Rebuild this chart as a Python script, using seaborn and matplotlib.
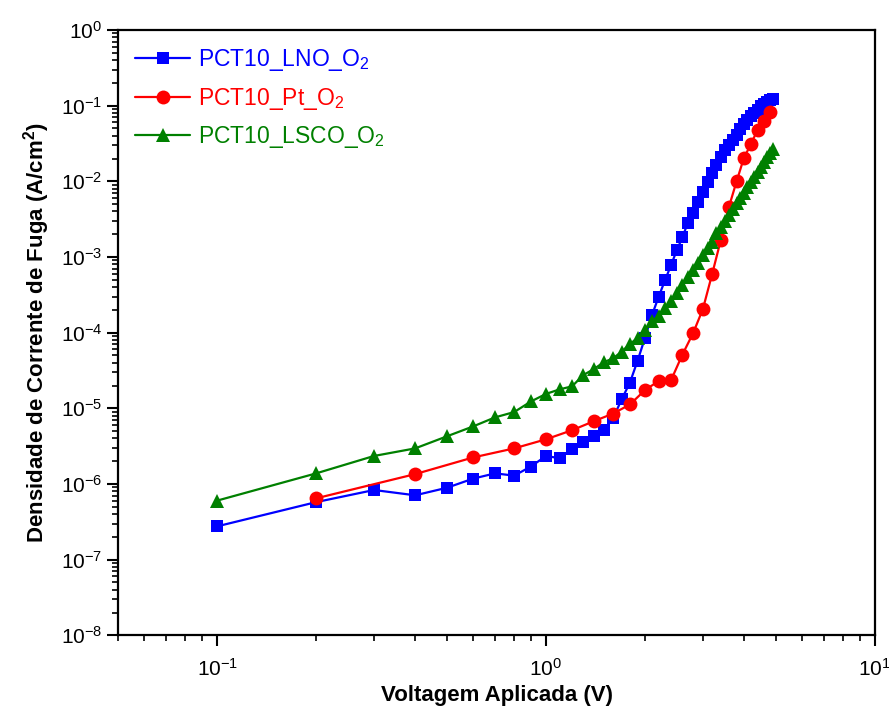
import numpy as np
import pandas as pd
import seaborn as sns
import matplotlib
from matplotlib import pyplot as plt
from matplotlib.ticker import LogLocator, NullFormatter

sns.set_style("ticks")
matplotlib.rcParams.update({
    "font.family": ["Liberation Sans", "DejaVu Sans"],
    "mathtext.fontset": "custom",
    "mathtext.rm": "Liberation Sans",
    "mathtext.bf": "Liberation Sans:bold",
    "text.color": "black",
    "axes.labelcolor": "black",
    "xtick.color": "black",
    "ytick.color": "black",
})

# Voltages (V) and log10 of leakage current density (A/cm^2)
v_lno = [0.1, 0.2, 0.3, 0.4, 0.5, 0.6, 0.7, 0.8, 0.9, 1.0,
         1.1, 1.2, 1.3, 1.4, 1.5, 1.6, 1.7, 1.8, 1.9, 2.0,
         2.1, 2.2, 2.3, 2.4, 2.5, 2.6, 2.7, 2.8, 2.9, 3.0,
         3.1, 3.2, 3.3, 3.4, 3.5, 3.6, 3.7, 3.8, 3.9, 4.0,
         4.1, 4.2, 4.3, 4.4, 4.5, 4.6, 4.7, 4.8, 4.9]
logj_lno = [-6.56, -6.24, -6.08, -6.15, -6.05, -5.93, -5.86, -5.89, -5.77, -5.63,
            -5.66, -5.54, -5.44, -5.36, -5.29, -5.13, -4.88, -4.66, -4.37, -4.07,
            -3.77, -3.53, -3.31, -3.11, -2.91, -2.74, -2.55, -2.42, -2.28, -2.14,
            -2.01, -1.89, -1.79, -1.68, -1.59, -1.52, -1.46, -1.39, -1.31, -1.24,
            -1.19, -1.14, -1.10, -1.06, -1.01, -0.98, -0.95, -0.93, -0.91]

v_pt = [0.2, 0.4, 0.6, 0.8, 1.0, 1.2, 1.4, 1.6, 1.8, 2.0,
        2.2, 2.4, 2.6, 2.8, 3.0, 3.2, 3.4, 3.6, 3.8, 4.0,
        4.2, 4.4, 4.6, 4.8]
logj_pt = [-6.19, -5.87, -5.65, -5.53, -5.41, -5.29, -5.17, -5.07, -4.95, -4.76,
           -4.64, -4.63, -4.29, -4.01, -3.69, -3.23, -2.78, -2.34, -2.00, -1.69,
           -1.51, -1.32, -1.20, -1.08]

v_lsco = v_lno
logj_lsco = [-6.22, -5.86, -5.63, -5.53, -5.37, -5.24, -5.12, -5.05, -4.91, -4.81,
             -4.75, -4.71, -4.56, -4.48, -4.39, -4.34, -4.25, -4.15, -4.07, -3.97,
             -3.85, -3.78, -3.68, -3.58, -3.47, -3.37, -3.27, -3.17, -3.08, -2.98,
             -2.88, -2.80, -2.69, -2.61, -2.53, -2.45, -2.37, -2.29, -2.22, -2.15,
             -2.08, -2.01, -1.94, -1.88, -1.81, -1.75, -1.68, -1.63, -1.57]

series = [
    ("PCT10_LNO_O$_2$", v_lno, logj_lno, "#0000FF", "s", 9),
    ("PCT10_Pt_O$_2$", v_pt, logj_pt, "#FF0000", "o", 10),
    ("PCT10_LSCO_O$_2$", v_lsco, logj_lsco, "#008000", "^", 10),
]

fig = plt.figure(figsize=(8.89, 7.13), dpi=100)
ax = fig.add_axes([0.133, 0.109, 0.851, 0.849])
ax.set_xscale("log")
ax.set_yscale("log")

for name, v, lj, color, mk, ms in series:
    df = pd.DataFrame({"V": v, "J": 10 ** np.array(lj)})
    sns.lineplot(data=df, x="V", y="J", ax=ax, color=color, marker=mk,
                 markersize=ms, markeredgewidth=0, linewidth=1.6,
                 estimator=None, sort=False, label=name)

ax.set_xlim(0.05, 10)
ax.set_ylim(1e-8, 1)

ax.xaxis.set_major_locator(LogLocator(base=10, numticks=10))
ax.xaxis.set_minor_locator(LogLocator(base=10, subs=np.arange(2, 10), numticks=10))
ax.xaxis.set_minor_formatter(NullFormatter())
ax.yaxis.set_major_locator(LogLocator(base=10, numticks=12))
ax.yaxis.set_minor_locator(LogLocator(base=10, subs=np.arange(2, 10), numticks=12))
ax.yaxis.set_minor_formatter(NullFormatter())

ax.tick_params(which="major", direction="out", length=8, width=1.5,
               labelsize=15, top=False, right=False)
ax.tick_params(which="minor", direction="out", length=4.5, width=1.2,
               top=False, right=False)
ax.tick_params(axis="x", which="major", pad=8)
for sp in ax.spines.values():
    sp.set_linewidth(1.6)
    sp.set_color("black")

ax.set_xlabel("Voltagem Aplicada (V)", fontsize=16, fontweight="bold", labelpad=4)
ax.set_ylabel("Densidade de Corrente de Fuga (A/cm$^\\mathbf{2}$)", fontsize=16,
              fontweight="bold", labelpad=6)

leg = ax.legend(loc="upper left", frameon=False, fontsize=16.5,
                handlelength=2.4, handletextpad=0.35, borderaxespad=0.35,
                labelspacing=0.55)
for text, (_, _, _, color, _, _) in zip(leg.get_texts(), series):
    text.set_color(color)

plt.savefig("out.png", dpi=100)
